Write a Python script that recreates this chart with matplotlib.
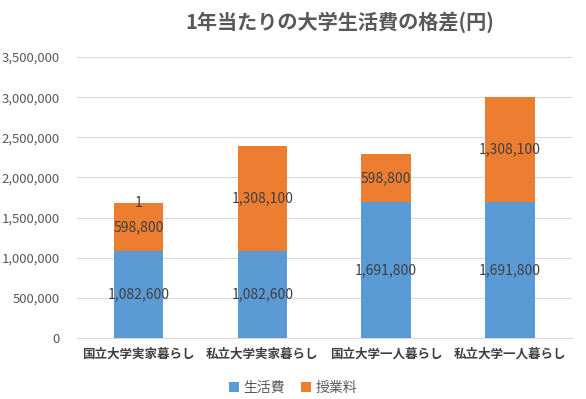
import numpy as np
import matplotlib
matplotlib.use('Agg')
import matplotlib.pyplot as plt

plt.rcParams['font.family'] = ['Noto Sans CJK JP', 'DejaVu Sans']

# データ
categories = ['国立大学実家暮らし', '私立大学実家暮らし', '国立大学一人暮らし', '私立大学一人暮らし']
living = [1082600, 1082600, 1691800, 1691800]
tuition = [598800, 1308100, 598800, 1308100]
extra = [1, 0, 0, 0]  # 一本目の上にだけ出ている「1」

blue = '#5B9BD5'
orange = '#ED7D31'
txt = '#404040'

fig = plt.figure(figsize=(5.86, 3.99), dpi=100)
ax = fig.add_axes([0.131, 0.153, 0.845, 0.704])

x = np.arange(len(categories))
w = 0.4
b1 = ax.bar(x, living, w, color=blue, label='生活費', zorder=3)
b2 = ax.bar(x, tuition, w, bottom=living, color=orange, label='授業料', zorder=3)
top = np.array(living) + np.array(tuition)
b3 = ax.bar(x, extra, w, bottom=top, color='#A5A5A5', zorder=3)

# データラベル
ax.bar_label(b1, labels=[f'{v:,}' for v in living], label_type='center', fontsize=10, color=txt)
ax.bar_label(b2, labels=[f'{v:,}' for v in tuition], label_type='center', fontsize=10, color=txt)
ax.bar_label(b3, labels=[f'{v:,}' if v else '' for v in extra], label_type='center', fontsize=10, color=txt)

ax.set_ylim(0, 3500000)
ax.set_yticks(np.arange(0, 3500001, 500000))
ax.set_yticklabels([f'{v:,}' for v in range(0, 3500001, 500000)])
ax.set_xlim(-0.5, len(categories) - 0.5)
ax.set_xticks(x)
ax.set_xticklabels(categories, fontweight='bold')

ax.grid(axis='y', color='#D9D9D9', linewidth=0.8, zorder=0)
for s in ['top', 'right', 'left']:
    ax.spines[s].set_visible(False)
ax.spines['bottom'].set_color('#D9D9D9')
ax.tick_params(axis='both', length=0, colors='#595959', labelsize=9.5)
ax.tick_params(axis='x', pad=7, labelcolor=txt, labelsize=9)
ax.tick_params(axis='y', pad=12)

fig.text(0.58, 0.945, '1年当たりの大学生活費の格差(円)', ha='center', va='center',
         fontsize=14.5, color='#595959', fontweight='bold')

fig.legend(handles=[b1, b2], loc='center', bbox_to_anchor=(0.5, 0.028), ncol=2,
           frameon=False, fontsize=10, handlelength=0.7, handleheight=0.7,
           handletextpad=0.3, columnspacing=1.2, labelcolor='#595959')

fig.savefig('out.png', dpi=100)
